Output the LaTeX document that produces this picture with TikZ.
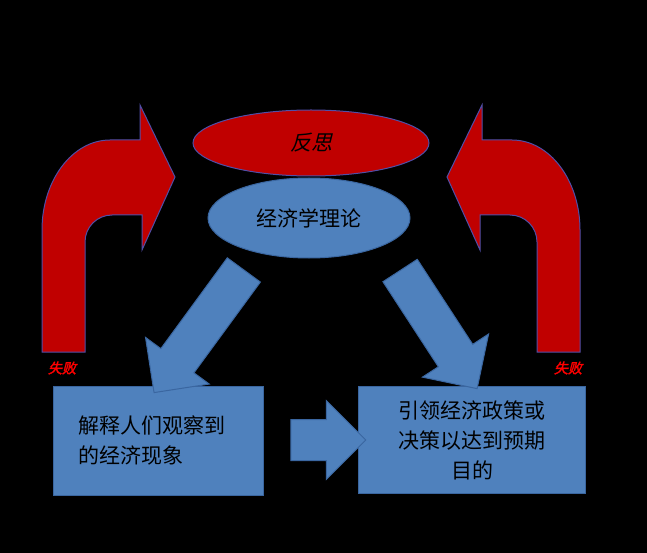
\documentclass[tikz,border=0pt]{standalone}
\usepackage{fontspec}
\usetikzlibrary{shapes.arrows, shapes.geometric}
\newfontfamily\cjk{Noto Sans CJK SC}
\newfontfamily\cjkit[FakeSlant=0.25]{Noto Sans CJK SC}
\newfontfamily\cjkbi[FakeSlant=0.25,FakeBold=2]{Noto Sans CJK SC}
\definecolor{boxblue}{HTML}{4F81BD}
\definecolor{boxline}{HTML}{3A66A0}
\definecolor{deepred}{HTML}{C00000}
\definecolor{redline}{HTML}{4F4FA8}
\tikzset{
  bluebox/.style={draw=boxline, fill=boxblue, line width=1pt},
  redshape/.style={draw=redline, fill=deepred, line width=1pt},
  blockarrow/.style={bluebox, single arrow, inner xsep=0pt, inner ysep=20pt,
    single arrow head extend=19pt, anchor=center},
  failtext/.style={text=red, font=\cjkbi\fontsize{14}{14}\selectfont},
}
\begin{document}
\begin{tikzpicture}[x=1pt, y=-1pt]
  \fill[black] (0,0) rectangle (647,553);
  \useasboundingbox (0,0) rectangle (647,553);

  % bent arrows
  \draw[redshape] (42,352) -- (42,230) arc[start angle=180, end angle=270, x radius=68, y radius=90]
    -- (140,140) -- (140,105) -- (175,177) -- (142,250) -- (142,215) -- (112,215)
    arc[start angle=270, end angle=180, radius=27] -- (85,352) -- cycle;
  \draw[redshape] (580,352) -- (580,230) arc[start angle=0, end angle=-90, x radius=68, y radius=90]
    -- (482,140) -- (482,105) -- (447,177) -- (480,250) -- (480,215) -- (510,215)
    arc[start angle=270, end angle=360, radius=27] -- (537,352) -- cycle;

  % ellipses
  \node[redshape, ellipse, minimum width=236pt, minimum height=66pt] (reflect) at (311,143)
    {\cjkit\fontsize{21}{21}\selectfont 反思};
  \node[bluebox, ellipse, minimum width=202pt, minimum height=80pt] (theory) at (309,218)
    {\cjk\fontsize{21}{21}\selectfont 经济学理论};

  % boxes
  \node[bluebox, minimum width=210pt, minimum height=109pt, text width=160pt, align=left,
    anchor=north west, inner sep=0pt] (explain) at (53,386)
    {\cjk\fontsize{21}{30}\selectfont 解释人们观察到\\的经济现象\\[30pt]};
  \node[bluebox, minimum width=227pt, minimum height=107pt, text width=200pt, align=center,
    anchor=north west, inner sep=0pt] (guide) at (358,386)
    {\cjk\fontsize{21}{30}\selectfont 引领经济政策或\par 决策以达到预期\par 目的\par};

  % block arrows
  \node[blockarrow, minimum height=152pt, rotate=233.8] (leftdown) at (205,323) {};
  \node[blockarrow, minimum height=141pt, rotate=-56.9] (rightdown) at (433,321) {};
  \node[blockarrow, minimum height=75pt] (across) at (318,440) {};

  % labels
  \node[failtext] (failleft) at (62,368) {失败};
  \node[failtext] (failright) at (568,368) {失败};
\end{tikzpicture}
\end{document}
